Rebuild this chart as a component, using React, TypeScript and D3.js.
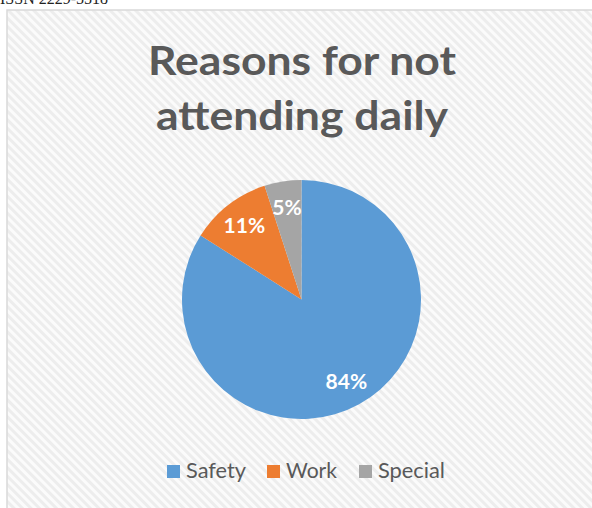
import React from "react";
import * as d3 from "d3";

const categories = ["Safety", "Work", "Special"];
const values = [84, 11, 5];
const colors = ["#5B9BD5", "#ED7D31", "#A5A5A5"];
const titleLines = ["Reasons for not", "attending daily"];
const headerText = "ISSN 2229-5518";

const W = 592;
const H = 508;

export default function App() {
  const cx = 301.5;
  const cy = 299.5;
  const R = 119.5;
  const pie = d3.pie<number>().value((d) => d).sort(null);
  const arcs = pie(values);
  const arc = d3.arc<d3.PieArcDatum<number>>().innerRadius(0).outerRadius(R);
  const labelArc = d3
    .arc<d3.PieArcDatum<number>>()
    .innerRadius(R * 0.78)
    .outerRadius(R * 0.78);
  const total = d3.sum(values);

  const legendX = [167, 267, 359];
  const legendW = [60, 51, 67];
  const font = "Lato, 'Open Sans', sans-serif";

  return (
    <svg
      width={W}
      height={H}
      style={{ position: "absolute", left: 0, top: 0, background: "#fff" }}
    >
      <defs>
        <pattern
          id="stripes"
          width={6}
          height={6}
          patternUnits="userSpaceOnUse"
          patternTransform="rotate(45)"
        >
          <rect width={6} height={6} fill="#fbfbfb" />
          <rect width={6} height={3} fill="#ededed" />
        </pattern>
      </defs>
      <text
        x={0}
        y={4}
        fontFamily="'Liberation Serif', serif"
        fontSize={16}
        fill="#222"
      >
        {headerText}
      </text>
      <rect
        x={7}
        y={10}
        width={W}
        height={H}
        fill="url(#stripes)"
        stroke="#d9d9d9"
        strokeWidth={1.5}
      />
      {titleLines.map((t, i) => (
        <text
          key={t}
          x={302}
          y={75 + i * 55}
          textAnchor="middle"
          fontFamily={font}
          fontWeight={700}
          fontSize={41}
          fill="#595959"
          textLength={i === 0 ? 308 : 292}
          lengthAdjust="spacingAndGlyphs"
        >
          {t}
        </text>
      ))}
      <g transform={`translate(${cx},${cy})`}>
        {arcs.map((a, i) => (
          <path key={categories[i]} d={arc(a) || ""} fill={colors[i]} />
        ))}
        {arcs.map((a, i) => {
          const [x, y] = labelArc.centroid(a);
          return (
            <text
              key={"l" + i}
              x={x}
              y={y}
              dy="0.36em"
              textAnchor="middle"
              fontFamily={font}
              fontWeight={700}
              fontSize={21}
              fill="#fff"
            >
              {Math.round((values[i] / total) * 100)}%
            </text>
          );
        })}
      </g>
      {categories.map((c, i) => (
        <g key={c}>
          <rect x={legendX[i]} y={465} width={13} height={13} fill={colors[i]} />
          <text
            x={legendX[i] + 19}
            y={478}
            fontFamily={font}
            fontSize={21}
            fill="#595959"
            textLength={legendW[i]}
            lengthAdjust="spacingAndGlyphs"
          >
            {c}
          </text>
        </g>
      ))}
    </svg>
  );
}
